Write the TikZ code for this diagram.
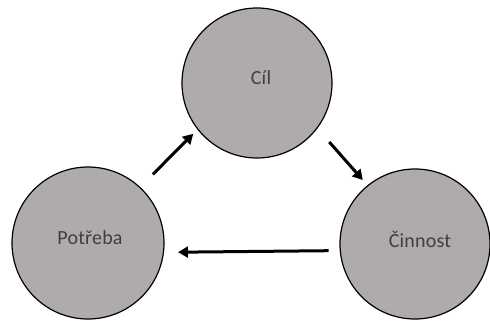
\documentclass[tikz,border=0pt]{standalone}
\usepackage{fontspec}
\setmainfont{Carlito}[LetterSpace=1]
\usetikzlibrary{arrows.meta}
\definecolor{circfill}{HTML}{AFABAB}
\definecolor{txt}{HTML}{3F3F3F}
\tikzset{
  bubble/.style={circle, draw=black, line width=1.2pt, fill=circfill, inner sep=0pt,
    minimum size=150pt},
  lbl/.style={text=txt, font=\fontsize{20}{23}\selectfont, inner sep=0pt},
  arr/.style={line width=3pt, -{Triangle[length=10pt,width=11pt]}}
}
\begin{document}
\begin{tikzpicture}[x=1pt,y=-1pt]
\useasboundingbox (0,0) rectangle (490,322);
\node[bubble, label={[lbl, xshift=4pt, yshift=5pt]center:Cíl}] (cil) at (257,83) {};
\node[bubble, minimum size=152pt, label={[lbl, xshift=2pt, yshift=5pt]center:Potřeba}] (potreba) at (88,243) {};
\node[bubble, label={[lbl, xshift=5pt, yshift=5pt]center:Činnost}] (cinnost) at (415,244) {};
\draw[arr, shorten <=18pt, shorten >=6pt] (potreba.47) -- (cil.218);
\draw[arr, shorten <=18pt, shorten >=7pt] (cil.-37) -- (cinnost.129);
\draw[arr, shorten <=11pt, shorten >=14pt] (cinnost.185) -- (potreba.-7);
\end{tikzpicture}
\end{document}
